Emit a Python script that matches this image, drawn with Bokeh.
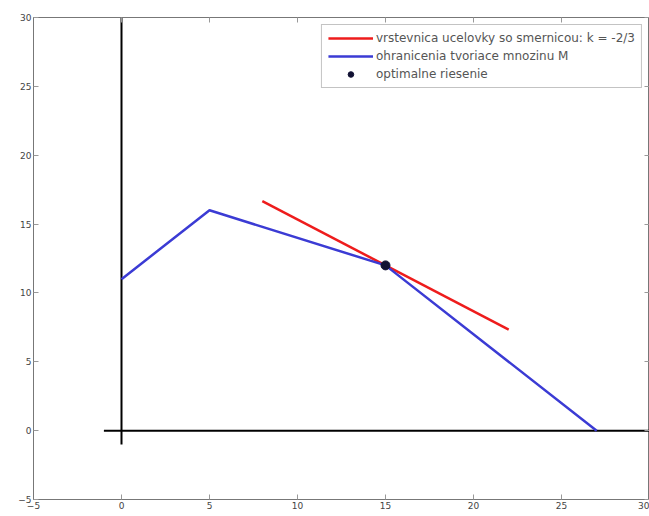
from bokeh.plotting import figure
from bokeh.models import Range1d, FixedTicker, Legend, LegendItem, LinearAxis
from bokeh.embed import file_html
from bokeh.resources import INLINE

# data
obj_x = [8, 22]
obj_y = [16.67, 7.33]
bound_x = [0, 5, 15, 27]
bound_y = [11, 16, 12, 0]
opt_x = [15]
opt_y = [12]
haxis_x = [-1, 30]
haxis_y = [0, 0]
vaxis_x = [0, 0]
vaxis_y = [-1, 30]
ticks = [-5, 0, 5, 10, 15, 20, 25, 30]
labels = ["vrstevnica ucelovky so smernicou: k = -2/3",
          "ohranicenia tvoriace mnozinu M",
          "optimalne riesenie"]

p = figure(width=649, height=516, output_backend="svg", toolbar_location=None,
           x_range=Range1d(-5, 30), y_range=Range1d(-5, 30),
           min_border_left=33, min_border_right=0, min_border_top=17, min_border_bottom=17)
p.xgrid.visible = False
p.ygrid.visible = False
p.outline_line_color = "#777777"
p.outline_line_width = 1
p.background_fill_color = "white"
p.border_fill_color = "white"

top_ax = LinearAxis()
right_ax = LinearAxis()
p.add_layout(top_ax, "above")
p.add_layout(right_ax, "right")
bottom_ax = p.below[0]
left_ax = p.left[0]

for ax in (bottom_ax, left_ax, top_ax, right_ax):
    ax.ticker = FixedTicker(ticks=ticks, minor_ticks=[])
    ax.major_tick_in = 5
    ax.major_tick_out = 0
    ax.minor_tick_line_color = None
    ax.minor_tick_in = 0
    ax.minor_tick_out = 0
    ax.axis_line_color = "#777777"
    ax.major_tick_line_color = "#999999"
    ax.major_label_text_font = "DejaVu Sans"
    ax.major_label_text_font_size = "9px"
    ax.major_label_text_color = "#444444"
    ax.major_label_standoff = 2
for ax in (top_ax, right_ax):
    ax.major_label_overrides = {t: "" for t in ticks}
    ax.major_label_text_color = None
    ax.major_label_standoff = 0
    ax.major_label_text_font_size = "1px"
    ax.axis_label_standoff = 0

p.line(haxis_x, haxis_y, line_color="black", line_width=2)
p.line(vaxis_x, vaxis_y, line_color="black", line_width=2)
r_red = p.line(obj_x, obj_y, line_color="#ee1c1c", line_width=2.5)
r_blue = p.line(bound_x, bound_y, line_color="#3b3bd4", line_width=2.5)
r_dot = p.scatter(opt_x, opt_y, size=9, fill_color="#111133", line_color="#111133")

legend = Legend(items=[LegendItem(label=labels[0], renderers=[r_red]),
                       LegendItem(label=labels[1], renderers=[r_blue]),
                       LegendItem(label=labels[2], renderers=[r_dot])],
                location="top_right")
legend.label_text_font = "DejaVu Sans"
legend.label_text_font_size = "12px"
legend.label_text_color = "#555555"
legend.glyph_width = 45
legend.glyph_height = 14
legend.label_height = 14
legend.spacing = 4
legend.padding = 6
legend.margin = 7
legend.label_standoff = 3
legend.border_line_color = "#888888"
legend.background_fill_alpha = 1
p.add_layout(legend)

open("out.html", "w").write(file_html(p, INLINE))
